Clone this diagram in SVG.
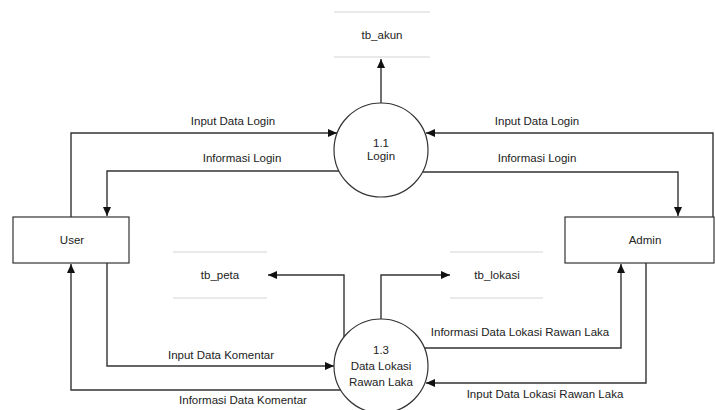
<svg xmlns="http://www.w3.org/2000/svg" width="715" height="410" viewBox="0 0 715 410">
<style>
text{font-family:"Liberation Sans",Arial,sans-serif;font-size:11.5px;fill:#222;text-anchor:middle}
.ln{fill:none;stroke:#333;stroke-width:1.4}
.st{stroke:#d4d4d4;stroke-width:1}
.box{fill:#fff;stroke:#333;stroke-width:1.2}
</style>
<defs>
<marker id="ah" markerUnits="userSpaceOnUse" markerWidth="10" markerHeight="10" refX="9" refY="4" orient="auto">
<path d="M0,0 L9,4 L0,8 Z" fill="#111"/>
</marker>
</defs>
<rect width="715" height="410" fill="#fff"/>
<g id="connectors">
<path class="ln" d="M381,103 V59" marker-end="url(#ah)"/>
<path class="ln" d="M71,217 V133 H337" marker-end="url(#ah)"/>
<path class="ln" d="M339,171 H107 V216" marker-end="url(#ah)"/>
<path class="ln" d="M713,217 V133 H426" marker-end="url(#ah)"/>
<path class="ln" d="M423,172 H678 V216" marker-end="url(#ah)"/>
<path class="ln" d="M344,338 V275 H268" marker-end="url(#ah)"/>
<path class="ln" d="M381,319 V275 H450" marker-end="url(#ah)"/>
<path class="ln" d="M107,263 V366 H334" marker-end="url(#ah)"/>
<path class="ln" d="M341,390 H71 V264" marker-end="url(#ah)"/>
<path class="ln" d="M424,348 H621 V264" marker-end="url(#ah)"/>
<path class="ln" d="M646,263 V383 H426" marker-end="url(#ah)"/>
</g>
<g id="labels">
<text x="233" y="125">Input Data Login</text>
<text x="242" y="162">Informasi Login</text>
<text x="537" y="125">Input Data Login</text>
<text x="537" y="162">Informasi Login</text>
<text x="221" y="359">Input Data Komentar</text>
<text x="243" y="404">Informasi Data Komentar</text>
<text x="520" y="336">Informasi Data Lokasi Rawan Laka</text>
<text x="545" y="398">Input Data Lokasi Rawan Laka</text>
</g>
<g id="tb_akun">
<line class="st" x1="334" y1="12" x2="430" y2="12"/>
<line class="st" x1="334" y1="57" x2="430" y2="57"/>
<text x="382" y="39">tb_akun</text>
</g>
<g id="tb_peta">
<line class="st" x1="173" y1="252" x2="267" y2="252"/>
<line class="st" x1="173" y1="298" x2="267" y2="298"/>
<text x="220" y="279">tb_peta</text>
</g>
<g id="tb_lokasi">
<line class="st" x1="450" y1="252" x2="543" y2="252"/>
<line class="st" x1="450" y1="298" x2="543" y2="298"/>
<text x="497" y="279">tb_lokasi</text>
</g>
<g id="p11">
<circle class="box" cx="381" cy="150" r="47"/>
<text x="381" y="147">1.1</text>
<text x="381" y="160">Login</text>
</g>
<g id="p13">
<circle class="box" cx="381" cy="366" r="47"/>
<text x="381" y="354">1.3</text>
<text x="381" y="370">Data Lokasi</text>
<text x="381" y="386">Rawan Laka</text>
</g>
<g id="user">
<rect class="box" x="13" y="217" width="116" height="46"/>
<text x="72" y="244">User</text>
</g>
<g id="admin">
<rect class="box" x="565" y="217" width="149" height="46"/>
<text x="645" y="244">Admin</text>
</g>
</svg>
